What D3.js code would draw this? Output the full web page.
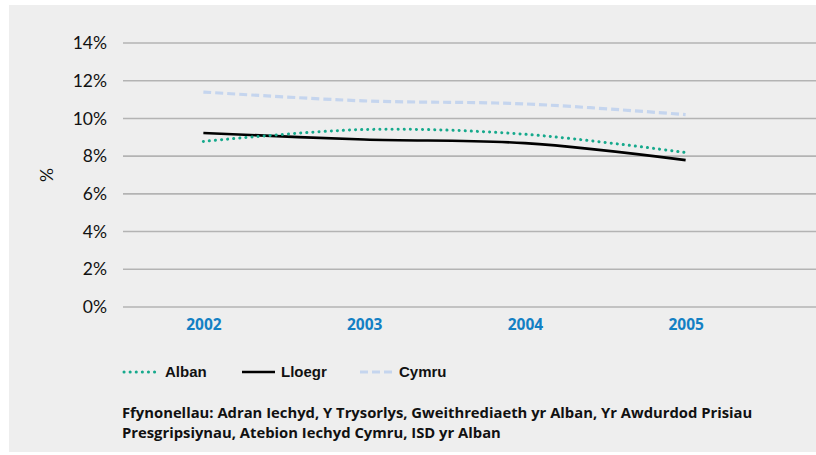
<!DOCTYPE html>
<html>
<head>
<meta charset="utf-8">
<script src="https://cdn.jsdelivr.net/npm/d3@7"></script>
<style>
  html, body { margin: 0; padding: 0; background: #ffffff; }
  svg { display: block; }
</style>
</head>
<body>
<svg id="chart" width="816" height="455"></svg>
<script>
// Years along the x axis
const years = ["2002", "2003", "2004", "2005"];
// Percentages per nation
const alban  = [8.78, 9.41, 9.16, 8.19];
const lloegr = [9.23, 8.88, 8.69, 7.79];
const cymru  = [11.40, 10.93, 10.77, 10.20];
// Y axis ticks
const yTicks = [0, 2, 4, 6, 8, 10, 12, 14];
const seriesNames = ["Alban", "Lloegr", "Cymru"];
const footerLines = [
  "Ffynonellau: Adran Iechyd, Y Trysorlys, Gweithrediaeth yr Alban, Yr Awdurdod Prisiau",
  "Presgripsiynau, Atebion Iechyd Cymru, ISD yr Alban"
];

const svg = d3.select("#chart");
const W = 816, H = 455;

// panel background
svg.append("rect")
  .attr("x", 9).attr("y", 5)
  .attr("width", W - 9).attr("height", 447)
  .attr("fill", "#eeeeee");

const plot = { left: 123, right: 766, top: 43, bottom: 307, gridRight: 816 };

const x = d3.scalePoint().domain(years).range([plot.left, plot.right]).padding(0.5);
const y = d3.scaleLinear().domain([0, 14]).range([plot.bottom, plot.top]);

// gridlines
svg.append("g").selectAll("line").data(yTicks).join("line")
  .attr("x1", plot.left).attr("x2", plot.gridRight)
  .attr("y1", d => y(d)).attr("y2", d => y(d))
  .attr("stroke", "#b3b3b3").attr("stroke-width", 1.6);

// y axis labels
const yAxis = d3.axisLeft(y).tickValues(yTicks).tickFormat(d => d + "%").tickSize(0).tickPadding(0);
const gy = svg.append("g").attr("transform", "translate(107,0)").call(yAxis);
gy.select(".domain").remove();
gy.selectAll("text")
  .attr("font-family", "Lato, 'Open Sans', sans-serif")
  .attr("font-size", 17.5)
  .attr("fill", "#111");

// y axis title
svg.append("text")
  .attr("transform", "translate(53,175) rotate(-90)")
  .attr("text-anchor", "middle")
  .attr("font-family", "Lato, sans-serif")
  .attr("font-size", 17.5)
  .attr("fill", "#111")
  .text("%");

// x axis labels
const xAxis = d3.axisBottom(x).tickSize(0).tickPadding(0);
const gx = svg.append("g").attr("transform", "translate(0,318)").call(xAxis);
gx.select(".domain").remove();
gx.selectAll("text")
  .attr("dy", "0.75em")
  .attr("font-family", "'Open Sans', sans-serif")
  .attr("font-weight", "bold")
  .attr("font-size", 15.5)
  .attr("fill", "#1380c4");

const styles = {
  Alban:  { color: "#16a98c", width: 3,   dash: "0.1 6", cap: "round" },
  Lloegr: { color: "#000000", width: 2.6, dash: null,    cap: "butt" },
  Cymru:  { color: "#c5d5ee", width: 3.2, dash: "8 4",   cap: "butt" }
};
const data = { Alban: alban, Lloegr: lloegr, Cymru: cymru };

const line = d3.line()
  .x((d, i) => x(years[i]))
  .y(d => y(d))
  .curve(d3.curveCatmullRom.alpha(0.5));

// draw Cymru first so the other series sit on top
["Cymru", "Lloegr", "Alban"].forEach(name => {
  const s = styles[name];
  svg.append("path")
    .datum(data[name])
    .attr("d", line)
    .attr("fill", "none")
    .attr("stroke", s.color)
    .attr("stroke-width", s.width)
    .attr("stroke-linecap", s.cap)
    .attr("stroke-dasharray", s.dash);
});

// legend
const legendY = 372;
const legendItems = [
  { name: "Alban",  x1: 124, x2: 159, tx: 165 },
  { name: "Lloegr", x1: 242, x2: 275, tx: 281 },
  { name: "Cymru",  x1: 360, x2: 395, tx: 399 }
];
const lg = svg.append("g");
legendItems.forEach(it => {
  const s = styles[it.name];
  lg.append("line")
    .attr("x1", it.x1).attr("x2", it.x2)
    .attr("y1", legendY).attr("y2", legendY)
    .attr("stroke", s.color)
    .attr("stroke-width", s.width)
    .attr("stroke-linecap", s.cap)
    .attr("stroke-dasharray", s.dash);
  lg.append("text")
    .attr("x", it.tx).attr("y", legendY)
    .attr("dy", "0.35em")
    .attr("font-family", "'Liberation Sans', Arial, sans-serif")
    .attr("font-weight", "bold")
    .attr("font-size", 15)
    .attr("fill", "#111")
    .text(it.name);
});

// source note, first line spans the width of the note block
const foot = svg.append("g")
  .attr("font-family", "'Open Sans', sans-serif")
  .attr("font-weight", "bold")
  .attr("font-size", 14)
  .attr("fill", "#111");
const footWidth = 631;
footerLines.forEach((t, i) => {
  const txt = foot.append("text")
    .attr("x", 122)
    .attr("y", 418 + i * 19.5)
    .text(t);
  if (i === 0) {
    const w = txt.node().getComputedTextLength();
    txt.attr("font-size", 14 * footWidth / w);
  }
});
// keep the second line at the same size as the first
const fs = foot.select("text").attr("font-size");
foot.selectAll("text").attr("font-size", fs);
</script>
</body>
</html>
